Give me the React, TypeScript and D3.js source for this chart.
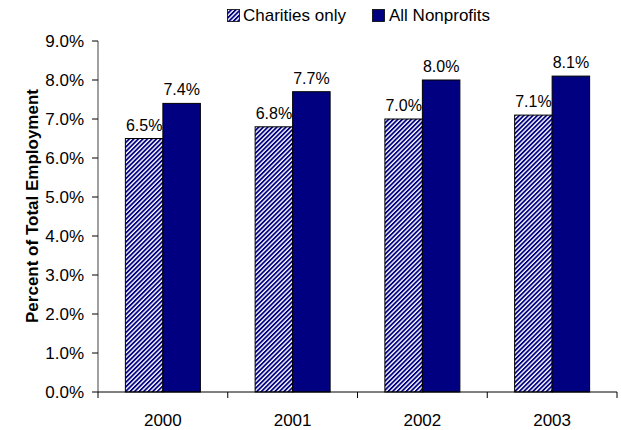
import React from "react";
import * as d3 from "d3";

const years = ["2000", "2001", "2002", "2003"];
const charities = [6.5, 6.8, 7.0, 7.1];
const nonprofits = [7.4, 7.7, 8.0, 8.1];
const charityLabels = ["6.5%", "6.8%", "7.0%", "7.1%"];
const nonprofitLabels = ["7.4%", "7.7%", "8.0%", "8.1%"];
const yTicks = [0, 1, 2, 3, 4, 5, 6, 7, 8, 9];

export default function App() {
  const W = 621, H = 430;
  const left = 98, right = 617, top = 41, bottom = 392;
  const x = d3.scaleBand<string>().domain(years).range([left, right]).paddingInner(0).paddingOuter(0);
  const y = d3.scaleLinear().domain([0, 9]).range([bottom, top]);
  const bw = 37.5;
  const font = "Arial, 'Liberation Sans', sans-serif";
  const navy = "#000080";

  return (
    <svg width={W} height={H} style={{ position: "absolute", left: 0, top: 0 }} fontFamily={font}>
      <defs>
        <pattern id="hatch" patternUnits="userSpaceOnUse" width="3.2" height="3.2" patternTransform="rotate(45)">
          <rect width="3.2" height="3.2" fill="#ffffff" />
          <rect width="1.8" height="3.2" fill={navy} />
        </pattern>
      </defs>
      <rect width={W} height={H} fill="#fff" />
      {/* legend */}
      <rect x={227.5} y={9.5} width={12} height={12} fill="url(#hatch)" stroke="#000" strokeWidth={0.8} />
      <text x={243} y={21} fontSize={17}>Charities only</text>
      <rect x={372.5} y={9.5} width={12} height={12} fill={navy} stroke="#000" strokeWidth={0.8} />
      <text x={389} y={21} fontSize={17}>All Nonprofits</text>

      {/* bars */}
      {years.map((yr, i) => {
        const c = x(yr)! + x.bandwidth() / 2;
        return (
          <g key={yr}>
            <rect x={c - bw} y={y(charities[i])} width={bw} height={bottom - y(charities[i])} fill="url(#hatch)" stroke="#000" strokeWidth={1} />
            <rect x={c} y={y(nonprofits[i])} width={bw} height={bottom - y(nonprofits[i])} fill={navy} stroke="#000" strokeWidth={1} />
            <text x={c - bw / 2} y={y(charities[i]) - 8} fontSize={16} textAnchor="middle">{charityLabels[i]}</text>
            <text x={c + bw / 2} y={y(nonprofits[i]) - 8} fontSize={16} textAnchor="middle">{nonprofitLabels[i]}</text>
            <text x={c} y={426} fontSize={17} textAnchor="middle">{yr}</text>
          </g>
        );
      })}

      {/* y axis */}
      <line x1={left} x2={left} y1={top} y2={bottom} stroke="#808080" strokeWidth={1.5} />
      {yTicks.map(t => (
        <g key={t}>
          <line x1={left - 6} x2={left} y1={y(t)} y2={y(t)} stroke="#000" strokeWidth={1} />
          <text x={84} y={y(t) + 6} fontSize={17} textAnchor="end">{t.toFixed(1) + "%"}</text>
        </g>
      ))}
      {/* x axis */}
      <line x1={left} x2={right} y1={bottom} y2={bottom} stroke="#000" strokeWidth={1} />
      {[...years.map(yr => x(yr)!), right].map((tx, i) => (
        <line key={i} x1={tx} x2={tx} y1={bottom} y2={bottom + 6} stroke="#000" strokeWidth={1} />
      ))}
      <text transform={`translate(38,206) rotate(-90)`} fontSize={17} fontWeight="bold" textAnchor="middle">Percent of Total Employment</text>
    </svg>
  );
}
